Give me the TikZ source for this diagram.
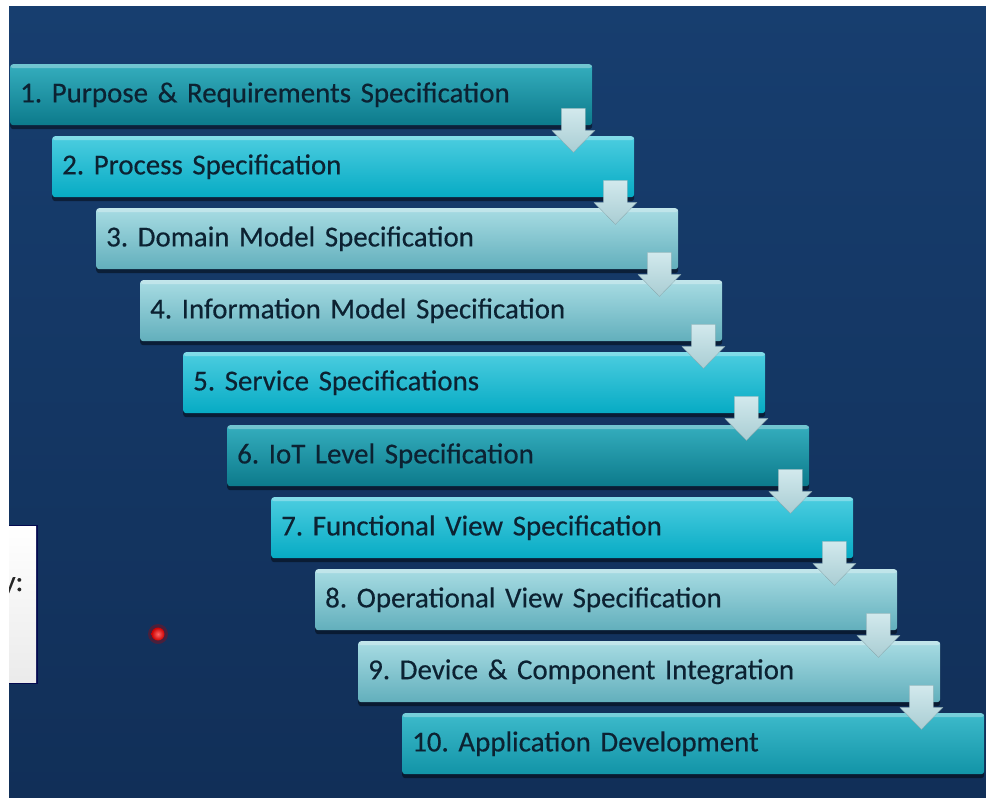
\documentclass[tikz,border=0pt]{standalone}
\usepackage{fontspec}
\setmainfont{Carlito}[WordSpace=0.75,FakeBold=0.4]
\usetikzlibrary{calc,shadows}
\definecolor{bgtop}{HTML}{173E6F}
\definecolor{bgbot}{HTML}{112F58}
\definecolor{txt}{HTML}{0C2232}
\definecolor{darkA}{HTML}{35AEBE}
\definecolor{darkB}{HTML}{0C7A8B}
\definecolor{cyanA}{HTML}{4CCDE0}
\definecolor{cyanB}{HTML}{06ABC4}
\definecolor{liteA}{HTML}{A8DCE3}
\definecolor{liteB}{HTML}{62AFBC}
\definecolor{midA}{HTML}{3DBACB}
\definecolor{midB}{HTML}{1294A7}
\definecolor{arrA}{HTML}{D2E9ED}
\definecolor{arrB}{HTML}{A9CDD3}
\frenchspacing
\tikzset{
  stepbox/.style={rectangle, rounded corners=3pt, anchor=north west,
    minimum width=582pt, minimum height=61pt, inner sep=0pt,
    text width=562pt, align=left, text=txt,
    font=\fontsize{28.9}{33}\selectfont,
    drop shadow={shadow xshift=0pt, shadow yshift=-4pt, fill=black, opacity=0.45},
    path picture={\fill[white,opacity=0.3] (path picture bounding box.north west) rectangle ([yshift=-4pt]path picture bounding box.north east);}},
  darkbox/.style={stepbox, top color=darkA, bottom color=darkB},
  cyanbox/.style={stepbox, top color=cyanA, bottom color=cyanB},
  litebox/.style={stepbox, top color=liteA, bottom color=liteB},
  midbox/.style={stepbox, top color=midA, bottom color=midB},
  downarrow/.style={top color=arrA, bottom color=arrB, draw=arrB!80!black, line width=0.3pt}
}
\begin{document}
\begin{tikzpicture}[x=1pt,y=-1pt]
\useasboundingbox (0,0) rectangle (986,798);
\fill[white] (0,0) rectangle (986,798);
\shade[top color=bgtop, bottom color=bgbot] (9,6) rectangle (986,798);
% left partial panel
\begin{scope}
\clip (9,525) rectangle (38,684);
\fill[black!70!blue, opacity=0.8] (9,525) rectangle (38,684);
\shade[top color=white, bottom color=black!8] (9,526) rectangle (36,682);
\node[anchor=base east, font=\fontsize{28.9}{33}\selectfont, text=black!85, inner sep=0pt] (lbl) at (23.5,591) {y:};
\end{scope}
% red dot
\fill[red!70!black, opacity=0.35] (158,634) circle (10);
\shade[inner color=red!60, outer color=red!80!black] (158,634) circle (6.5);
% boxes
\node[darkbox] (b1) at (10,64) {1. Purpose \& Requirements Specification};
\node[cyanbox] (b2) at (52,136) {2. Process Specification};
\node[litebox] (b3) at (96,208) {3. Domain Model Specification};
\node[litebox] (b4) at (140,280) {4. Information Model Specification};
\node[cyanbox] (b5) at (183,352) {5. Service Specifications};
\node[darkbox] (b6) at (227,425) {6. IoT Level Specification};
\node[cyanbox] (b7) at (271,497) {7. Functional View Specification};
\node[litebox] (b8) at (315,569) {8. Operational View Specification};
\node[litebox] (b9) at (358,641) {9. Device \& Component Integration};
\node[midbox] (b10) at (402,713) {10. Application Development};
% arrows
\foreach \i in {1,...,9}{
  \coordinate (c\i) at ($(b\i.south east)+(-19,0)$);
  \path[downarrow] ($(c\i)+(-12,-17)$) -- ($(c\i)+(12,-17)$) -- ($(c\i)+(12,5)$) -- ($(c\i)+(21.5,5)$) -- ($(c\i)+(0,27)$) -- ($(c\i)+(-21.5,5)$) -- ($(c\i)+(-12,5)$) -- cycle;
}
\end{tikzpicture}
\end{document}
